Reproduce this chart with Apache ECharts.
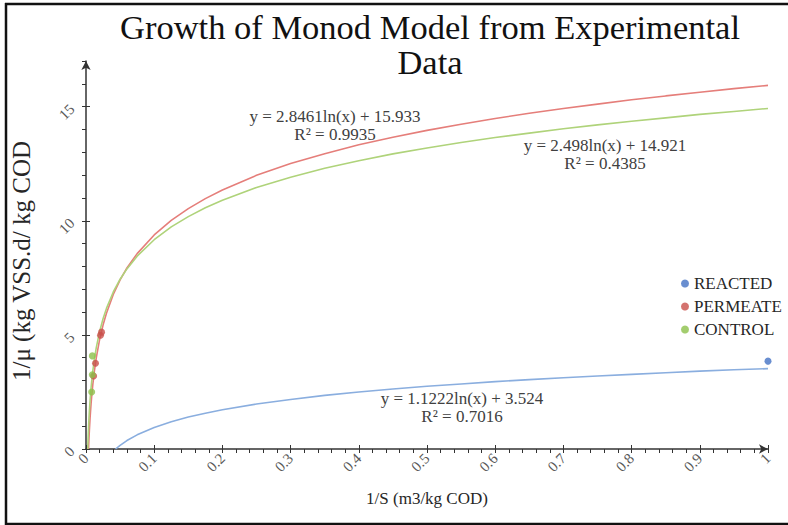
<!DOCTYPE html>
<html><head><meta charset="utf-8">
<script src="https://cdn.jsdelivr.net/npm/echarts@6/dist/echarts.min.js"></script>
<style>html,body{margin:0;padding:0;background:#fff}#chart{width:788px;height:525px}</style>
</head><body><div id="chart"></div>
<script>
// ---- data ----
const seriesNames = ['REACTED', 'PERMEATE', 'CONTROL'];
const reactedX = [1.0];
const reactedY = [3.85];
const permeateX = [0.0112, 0.0139, 0.0213, 0.0228];
const permeateY = [3.2, 3.76, 4.98, 5.12];
const controlX = [0.0083, 0.0093, 0.0093];
const controlY = [2.5, 3.25, 4.08];

// trend lines (logarithmic fits shown on the chart), read at these x values
const reactedTrendX = [0.0433, 0.05, 0.06, 0.075, 0.1, 0.125, 0.15, 0.175, 0.2, 0.25, 0.3, 0.35, 0.4, 0.45, 0.5, 0.55, 0.6, 0.65, 0.7, 0.75, 0.8, 0.85, 0.9, 0.95, 1];
const reactedTrendY = [0, 0.16, 0.37, 0.62, 0.94, 1.19, 1.40, 1.57, 1.72, 1.97, 2.17, 2.35, 2.50, 2.63, 2.75, 2.85, 2.95, 3.04, 3.12, 3.20, 3.27, 3.34, 3.41, 3.47, 3.52];
const permeateTrendX = [0.0037, 0.004, 0.0045, 0.005, 0.006, 0.0075, 0.0085, 0.01, 0.0125, 0.015, 0.02, 0.025, 0.03, 0.04, 0.05, 0.06, 0.075, 0.1, 0.125, 0.15, 0.175, 0.2, 0.25, 0.3, 0.35, 0.4, 0.45, 0.5, 0.55, 0.6, 0.65, 0.7, 0.75, 0.8, 0.85, 0.9, 0.95, 1];
const permeateTrendY = [0, 0.22, 0.55, 0.85, 1.37, 2.01, 2.36, 2.83, 3.46, 3.98, 4.80, 5.43, 5.95, 6.77, 7.41, 7.93, 8.56, 9.38, 10.02, 10.53, 10.97, 11.35, 11.99, 12.51, 12.94, 13.33, 13.66, 13.96, 14.23, 14.48, 14.71, 14.92, 15.11, 15.30, 15.47, 15.63, 15.79, 15.93];
const controlTrendX = [0.00255, 0.003, 0.004, 0.0045, 0.005, 0.006, 0.0075, 0.0085, 0.01, 0.0125, 0.015, 0.02, 0.025, 0.03, 0.04, 0.05, 0.06, 0.075, 0.1, 0.125, 0.15, 0.175, 0.2, 0.25, 0.3, 0.35, 0.4, 0.45, 0.5, 0.55, 0.6, 0.65, 0.7, 0.75, 0.8, 0.85, 0.9, 0.95, 1];
const controlTrendY = [0, 0.41, 1.13, 1.42, 1.69, 2.14, 2.70, 3.01, 3.42, 3.97, 4.43, 5.15, 5.71, 6.16, 6.88, 7.44, 7.89, 8.45, 9.17, 9.73, 10.18, 10.57, 10.90, 11.46, 11.91, 12.30, 12.63, 12.93, 13.19, 13.43, 13.65, 13.84, 14.03, 14.20, 14.36, 14.51, 14.66, 14.79, 14.92];

const trendLabels = [
  'y = 1.1222ln(x) + 3.524\nR² = 0.7016',
  'y = 2.8461ln(x) + 15.933\nR² = 0.9935',
  'y = 2.498ln(x) + 14.921\nR² = 0.4385'
];
const yTickLabels = [0, 5, 10, 15];
const titleLines = ['Growth of Monod Model from Experimental', 'Data'];
const xAxisTitle = '1/S (m3/kg COD)';
const yAxisTitle = '1/μ (kg VSS.d/ kg COD';

// ---- styles ----
const FONT = 'Liberation Serif, Times New Roman, serif';
const dotColors = ['#4472C4', '#C9504B', '#8CC04A'];
const lineColors = ['#8AAEDF', '#E57E7A', '#AFD37A'];

const zip = (xs, ys) => xs.map((x, i) => [x, ys[i]]);

const chart = echarts.init(document.getElementById('chart'), null, { renderer: 'svg' });

const axisLineStyle = { color: '#333', width: 1.5 };
const labelStyle = { color: '#595959', fontFamily: FONT, fontSize: 15, rotate: 45 };

function trend(name, xs, ys, color) {
  return { name: name, type: 'line', data: zip(xs, ys), showSymbol: false, smooth: false,
    lineStyle: { color: color, width: 1.6 }, itemStyle: { color: color }, z: 2, silent: true };
}

const option = {
  backgroundColor: '#fff',
  animation: false,
  grid: { left: 86, right: 20, top: 61, bottom: 76, containLabel: false },
  legend: {
    data: seriesNames,
    orient: 'vertical',
    left: 676, top: 270,
    itemWidth: 8, itemHeight: 8, itemGap: 6,
    icon: 'circle',
    textStyle: { fontFamily: FONT, fontSize: 17, color: '#262626' }
  },
  xAxis: [
    {
      type: 'value', min: 0, max: 1, interval: 0.02, position: 'bottom',
      axisLine: { show: true, onZero: false, lineStyle: axisLineStyle, symbol: ['none', 'arrow'], symbolSize: [7, 9] },
      axisTick: { show: true, length: 4, lineStyle: { color: '#333' } },
      axisLabel: { show: false },
      splitLine: { show: false },
      name: xAxisTitle, nameLocation: 'middle', nameGap: 41,
      nameTextStyle: { fontFamily: FONT, fontSize: 17, color: '#262626' }
    },
    {
      type: 'value', min: 0, max: 1, interval: 0.1, position: 'bottom',
      axisLine: { show: false, onZero: false },
      axisTick: { show: true, inside: true, length: 4, lineStyle: { color: '#333' } },
      axisLabel: Object.assign({ margin: 7, formatter: v => String(Math.round(v * 10) / 10) }, labelStyle),
      splitLine: { show: false }
    }
  ],
  yAxis: [
    {
      type: 'value', min: 0, max: 17, interval: 1, position: 'left',
      axisLine: { show: true, onZero: false, lineStyle: axisLineStyle, symbol: ['none', 'arrow'], symbolSize: [7, 9] },
      axisTick: { show: true, length: 4, lineStyle: { color: '#333' } },
      axisLabel: { show: false },
      splitLine: { show: false },
      name: yAxisTitle, nameLocation: 'middle', nameGap: 52, nameRotate: 90,
      nameTextStyle: { fontFamily: FONT, fontSize: 25, color: '#262626', padding: [0, 12, 0, 0] }
    },
    {
      type: 'value', min: 0, max: 17, position: 'left',
      axisLine: { show: false, onZero: false },
      axisTick: { show: true, inside: true, length: 4, customValues: yTickLabels, lineStyle: { color: '#333' } },
      axisLabel: Object.assign({ margin: 14, customValues: yTickLabels }, labelStyle),
      splitLine: { show: false }
    }
  ],
  graphic: [
    { type: 'line', shape: { x1: 5, y1: 4, x2: 788, y2: 4 }, style: { stroke: '#111', lineWidth: 2.5 } },
    { type: 'line', shape: { x1: 6, y1: 3, x2: 6, y2: 525 }, style: { stroke: '#111', lineWidth: 2.5 } },
    { type: 'line', shape: { x1: 5, y1: 524, x2: 788, y2: 524 }, style: { stroke: '#111', lineWidth: 2.5 } },
    { type: 'text', x: 430, y: 27, style: { text: titleLines[0], fontFamily: FONT, fontSize: 34.5, fill: '#111', align: 'center', verticalAlign: 'middle' } },
    { type: 'text', x: 430, y: 62, style: { text: titleLines[1], fontFamily: FONT, fontSize: 34.5, fill: '#111', align: 'center', verticalAlign: 'middle' } },
    { type: 'text', x: 462, y: 407, style: { text: trendLabels[0], fontFamily: FONT, fontSize: 17, fill: '#404040', align: 'center', verticalAlign: 'middle', lineHeight: 18 } },
    { type: 'text', x: 335, y: 125, style: { text: trendLabels[1], fontFamily: FONT, fontSize: 17, fill: '#404040', align: 'center', verticalAlign: 'middle', lineHeight: 18 } },
    { type: 'text', x: 605, y: 154, style: { text: trendLabels[2], fontFamily: FONT, fontSize: 17, fill: '#404040', align: 'center', verticalAlign: 'middle', lineHeight: 18 } }
  ],
  series: [
    trend('REACTED trend', reactedTrendX, reactedTrendY, lineColors[0]),
    trend('PERMEATE trend', permeateTrendX, permeateTrendY, lineColors[1]),
    trend('CONTROL trend', controlTrendX, controlTrendY, lineColors[2]),
    { name: seriesNames[0], type: 'scatter', data: zip(reactedX, reactedY), symbolSize: 7, itemStyle: { color: dotColors[0] }, z: 5 },
    { name: seriesNames[1], type: 'scatter', data: zip(permeateX, permeateY), symbolSize: 7, itemStyle: { color: dotColors[1] }, z: 5 },
    { name: seriesNames[2], type: 'scatter', data: zip(controlX, controlY), symbolSize: 7, itemStyle: { color: dotColors[2] }, z: 5 }
  ]
};
chart.setOption(option);
</script>
</body></html>
